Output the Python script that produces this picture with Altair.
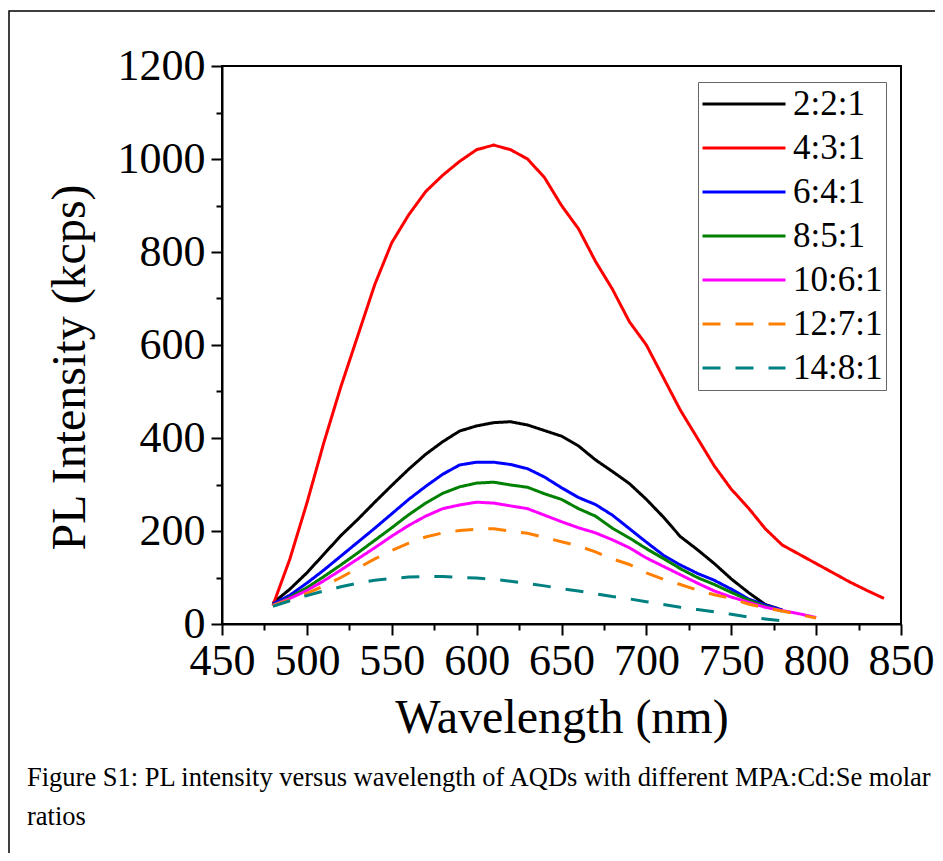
import altair as alt
import pandas as pd

series_names = ["2:2:1", "4:3:1", "6:4:1", "8:5:1", "10:6:1", "12:7:1", "14:8:1"]
series_colors = ["#000000", "#FF0000", "#0000FF", "#008000", "#FF00FF", "#FF8000", "#008080"]
series_dashes = [[1, 0], [1, 0], [1, 0], [1, 0], [1, 0], [18, 15], [18, 15]]

wl_221 = list(range(480, 781, 10))
pl_221 = [45, 75, 110, 150, 190, 225, 262, 298, 333, 365, 392, 415, 426, 433, 435, 428,
          416, 404, 383, 353, 328, 302, 268, 230, 188, 160, 130, 97, 68, 42, 30]

wl_431 = list(range(480, 841, 10))
pl_431 = [40, 140, 260, 390, 510, 620, 730, 820, 880, 930, 965, 995, 1020, 1030, 1020,
          1000, 960, 900, 850, 780, 720, 650, 600, 530, 460, 400, 340, 290, 250, 205,
          170, 150, 130, 110, 90, 72, 55]

wl_641 = list(range(480, 781, 10))
pl_641 = [43, 62, 88, 116, 146, 176, 206, 237, 268, 296, 322, 342, 348, 348, 343, 334,
          316, 293, 272, 257, 234, 205, 176, 148, 127, 109, 94, 75, 54, 41, 30]

wl_851 = list(range(480, 781, 10))
pl_851 = [40, 57, 78, 102, 127, 153, 180, 207, 235, 260, 281, 295, 303, 305, 299, 294,
          280, 268, 248, 232, 206, 185, 162, 141, 119, 100, 85, 68, 52, 38, 28]

wl_1061 = list(range(480, 801, 10))
pl_1061 = [40, 55, 72, 93, 116, 140, 164, 189, 212, 232, 248, 256, 262, 260, 254, 248,
           234, 220, 207, 196, 181, 164, 142, 124, 106, 88, 71, 58, 47, 36, 29, 22, 14]

wl_1271 = list(range(480, 801, 10))
pl_1271 = [40, 52, 66, 82, 100, 120, 140, 158, 174, 187, 196, 201, 204, 205, 200, 195,
           186, 177, 168, 155, 140, 128, 110, 96, 85, 73, 63, 55, 43, 35, 28, 20, 13]

wl_1481 = list(range(480, 781, 10))
pl_1481 = [38, 50, 61, 71, 80, 88, 94, 98, 101, 102, 102, 100, 99, 96, 92, 87, 82, 76,
           71, 65, 59, 54, 48, 42, 36, 31, 26, 21, 15, 11, 7]

x_ticks = list(range(450, 851, 25))
y_ticks = list(range(0, 1201, 100))

caption_lines = [
    "Figure S1: PL intensity versus wavelength of AQDs with different MPA:Cd:Se molar",
    "ratios",
]

all_wl = [wl_221, wl_431, wl_641, wl_851, wl_1061, wl_1271, wl_1481]
all_pl = [pl_221, pl_431, pl_641, pl_851, pl_1061, pl_1271, pl_1481]
rows = []
for order, (name, wls, pls) in enumerate(zip(series_names, all_wl, all_pl)):
    for w, p in zip(wls, pls):
        rows.append({"series": name, "order": order, "wavelength": w, "intensity": p})
df = pd.DataFrame(rows)

FONT = "Liberation Serif"

legend = alt.Legend(
    title=None,
    orient="none",
    legendX=476,
    legendY=16,
    strokeColor="#666666",
    fillColor="white",
    padding=3,
    rowPadding=6,
    clipHeight=38,
    symbolType="stroke",
    symbolSize=6889,
    symbolStrokeWidth=3,
    labelFont=FONT,
    labelFontSize=35,
    labelColor="black",
    labelOffset=6,
)

lines = alt.Chart(df).mark_line(strokeWidth=3, clip=True).encode(
    x=alt.X(
        "wavelength:Q",
        scale=alt.Scale(domain=[450, 850], nice=False),
        axis=alt.Axis(
            title="Wavelength (nm)",
            values=x_ticks,
            format="d",
            labelExpr="datum.value % 50 === 0 ? datum.label : ''",
            tickSize={"condition": {"test": "datum.value % 50 === 0", "value": 11}, "value": 6},
            labelPadding=4,
            titleBaseline="alphabetic",
            titleY=108,
        ),
    ),
    y=alt.Y(
        "intensity:Q",
        scale=alt.Scale(domain=[0, 1200], nice=False),
        axis=alt.Axis(
            title="PL Intensity (kcps)",
            values=y_ticks,
            format="d",
            labelExpr="datum.value % 200 === 0 ? datum.label : ''",
            tickSize={"condition": {"test": "datum.value % 200 === 0", "value": 11}, "value": 6},
            labelPadding=6,
            titleBaseline="alphabetic",
            titleX=-138,
            titleY=301,
        ),
    ),
    color=alt.Color("series:N", scale=alt.Scale(domain=series_names, range=series_colors), legend=legend),
    strokeDash=alt.StrokeDash("series:N", scale=alt.Scale(domain=series_names, range=series_dashes), legend=legend),
    order=alt.Order("wavelength:Q"),
)

frame = alt.Chart(pd.DataFrame({"f": [0]})).mark_rect(
    fillOpacity=0, stroke="black", strokeWidth=1.5
).encode(
    x=alt.value(-213), x2=alt.value(760), y=alt.value(-55), y2=alt.value(790)
)

chart = alt.layer(frame, lines).properties(
    width=679,
    height=558,
    autosize=alt.AutoSizeParams(type="none"),
    padding={"left": 214, "top": 58, "right": 34, "bottom": 229},
    title=alt.Title(
        text=caption_lines,
        orient="bottom",
        anchor="start",
        frame="group",
        font=FONT,
        fontSize=26.5,
        fontWeight="normal",
        color="black",
        dx=-195,
        dy=-92,
        offset=0,
        lineHeight=39,
    ),
).configure_view(
    stroke="black", strokeWidth=2
).configure_axis(
    grid=False,
    domainColor="black",
    domainWidth=2,
    tickColor="black",
    tickWidth=2,
    labelFont=FONT,
    labelFontSize=44,
    labelColor="black",
    labelOverlap=False,
    labelFlush=False,
    titleFont=FONT,
    titleFontSize=48,
    titleFontWeight="normal",
    titleColor="black",
)

chart.save("out.html", embed_options={"renderer": "svg", "actions": False})
